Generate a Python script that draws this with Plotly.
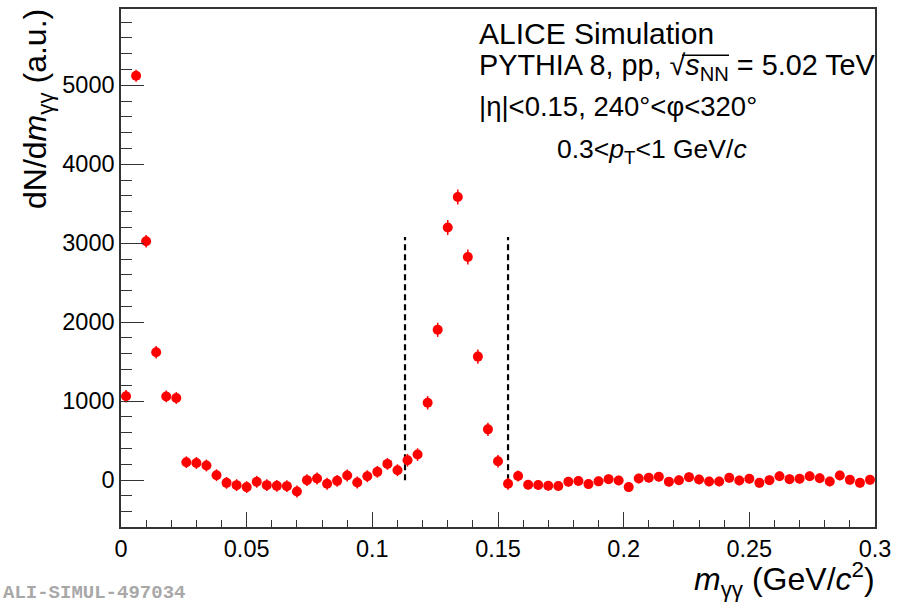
import plotly.graph_objects as go

# ---- data ----
bin_width = 0.004
mass = [round(0.002 + bin_width * i, 4) for i in range(75)]
counts = [1063, 5120, 3025, 1620, 1060, 1040, 227, 218, 185, 63,
          -34, -63, -88, -21, -63, -72, -76, -143, 0, 21,
          -45, -9, 59, -29, 50, 105, 206, 126, 252, 324,
          980, 1904, 3199, 3585, 2825, 1564, 643, 240, -45, 52,
          -58, -61, -71, -73, -21, -10, -50, -15, 13, -4,
          -88, 21, 31, 44, -19, -2, 38, 8, -17, -17,
          29, -4, 17, -34, 0, 50, 13, 17, 50, 25,
          -17, 59, 4, -34, 4]
errors = [80, 75, 80, 80, 75, 75, 75, 75, 75, 75,
          75, 75, 75, 75, 75, 75, 75, 75, 75, 75,
          75, 75, 75, 75, 75, 75, 75, 75, 80, 80,
          85, 90, 95, 95, 95, 90, 85, 80, 75, 70,
          60, 60, 60, 60, 60, 60, 60, 60, 60, 60,
          60, 60, 60, 60, 60, 60, 60, 60, 60, 60,
          60, 60, 60, 60, 60, 60, 60, 60, 60, 60,
          60, 60, 60, 60, 60]
window_lo = 0.113
window_hi = 0.154
window_top = 3080
x_ticks = [0, 0.05, 0.1, 0.15, 0.2, 0.25, 0.3]
x_tick_labels = ["0", "0.05", "0.1", "0.15", "0.2", "0.25", "0.3"]
y_ticks = [0, 1000, 2000, 3000, 4000, 5000]
y_tick_labels = ["0", "1000", "2000", "3000", "4000", "5000"]

FONT = "Liberation Sans, Arial, Helvetica, sans-serif"
W, H = 903, 603
ML, MR, MT, MB = 121, 28, 7, 76
PW, PH = W - ML - MR, H - MT - MB


def px(xp):
    return (xp - ML) / PW


def py(yp):
    return 1 - (yp - MT) / PH


fig = go.Figure()

for xv in (window_lo, window_hi):
    fig.add_trace(go.Scatter(
        x=[xv, xv], y=[0, window_top], mode="lines",
        line=dict(color="black", width=2.2, dash="6px,4px"),
        hoverinfo="skip", showlegend=False))

fig.add_trace(go.Scatter(
    x=mass, y=counts, mode="markers",
    marker=dict(color="#ff0000", size=10, symbol="circle", line=dict(width=0)),
    error_y=dict(type="data", array=errors, visible=True,
                 color="#ff0000", thickness=1.5, width=0),
    showlegend=False))

fig.update_layout(
    width=W, height=H,
    margin=dict(l=ML, r=MR, t=MT, b=MB, pad=0),
    paper_bgcolor="white", plot_bgcolor="white",
    font=dict(family=FONT, color="black", size=23.5),
    showlegend=False,
)

fig.update_xaxes(
    range=[0, 0.3], tickvals=x_ticks, ticktext=x_tick_labels,
    ticks="inside", ticklen=15, tickwidth=1, tickcolor="#333",
    minor=dict(dtick=0.01, tick0=0, ticks="inside", ticklen=7.5, tickwidth=1, tickcolor="#333"),
    showline=True, linecolor="#333", linewidth=1.5, mirror=True,
    showgrid=False, zeroline=False,
    tickfont=dict(family=FONT, size=23.5, color="black"),
)
fig.update_yaxes(
    range=[-593, 5965], tickvals=y_ticks, ticktext=y_tick_labels,
    ticks="inside", ticklen=23, tickwidth=1, tickcolor="#333",
    minor=dict(dtick=200, tick0=0, ticks="inside", ticklen=11.5, tickwidth=1, tickcolor="#333"),
    showline=True, linecolor="#333", linewidth=1.5, mirror=True,
    showgrid=False, zeroline=False,
    tickfont=dict(family=FONT, size=23.5, color="black"),
)

ann = []
ann.append(dict(text="dN/d<i>m</i><sub>γγ</sub> (a.u.)", textangle=-90,
                xref="paper", yref="paper", x=px(37), y=py(5),
                xanchor="center", yanchor="top", showarrow=False,
                font=dict(family=FONT, size=32, color="black")))
ann.append(dict(text="<i>m</i><sub>γγ</sub> (GeV/<i>c</i><sup>2</sup>)",
                xref="paper", yref="paper", x=px(877), y=py(580),
                xanchor="right", yanchor="middle", showarrow=False,
                font=dict(family=FONT, size=32, color="black")))
ann.append(dict(text="ALICE Simulation", xref="paper", yref="paper",
                x=px(476.7), y=py(32), xanchor="left", yanchor="middle", showarrow=False,
                font=dict(family=FONT, size=30, color="black")))
ann.append(dict(text="PYTHIA 8, pp, √<i>s</i><sub>NN</sub> = 5.02 TeV", xref="paper", yref="paper",
                x=px(476.7), y=py(65), xanchor="left", yanchor="middle", showarrow=False,
                font=dict(family=FONT, size=28.8, color="black")))
ann.append(dict(text="|η|&lt;0.15, 240°&lt;φ&lt;320°", xref="paper", yref="paper",
                x=px(476.7), y=py(105), xanchor="left", yanchor="middle", showarrow=False,
                font=dict(family=FONT, size=27.5, color="black")))
ann.append(dict(text="0.3&lt;<i>p</i><sub>T</sub>&lt;1 GeV/<i>c</i>", xref="paper", yref="paper",
                x=px(555), y=py(150), xanchor="left", yanchor="middle", showarrow=False,
                font=dict(family=FONT, size=26.5, color="black")))
ann.append(dict(text="<b>ALI-SIMUL-497034</b>", xref="paper", yref="paper",
                x=px(1), y=py(593), xanchor="left", yanchor="middle",
                showarrow=False,
                font=dict(family="Liberation Mono, Courier New, monospace", size=19, color="#a8a8a8")))
fig.update_layout(annotations=ann)

# overline of the square-root sign
fig.add_shape(type="line", xref="paper", yref="paper",
              x0=px(682), x1=px(729), y0=py(53.5), y1=py(53.5),
              line=dict(color="black", width=1.5))

fig.write_html("out.html", config={"displayModeBar": False},
               post_script="document.body.style.margin='0px';")
